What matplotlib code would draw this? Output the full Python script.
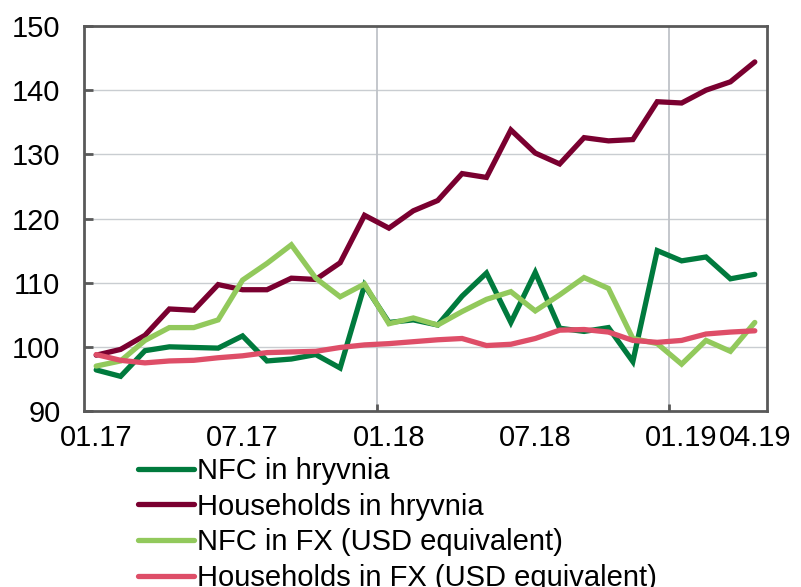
import matplotlib
matplotlib.use("Agg")
import matplotlib.pyplot as plt
from matplotlib.ticker import FixedLocator

plt.rcParams['font.family'] = ['Liberation Sans', 'DejaVu Sans']

months = ["01.17", "02.17", "03.17", "04.17", "05.17", "06.17", "07.17", "08.17", "09.17", "10.17",
          "11.17", "12.17", "01.18", "02.18", "03.18", "04.18", "05.18", "06.18", "07.18", "08.18",
          "09.18", "10.18", "11.18", "12.18", "01.19", "02.19", "03.19", "04.19"]

nfc_uah = [96.4, 95.4, 99.4, 100.0, 99.9, 99.8, 101.7, 97.8, 98.1, 98.8, 96.7, 109.6, 103.8, 104.2,
           103.4, 107.9, 111.5, 103.8, 111.6, 102.9, 102.4, 103.0, 97.7, 115.0, 113.4, 114.0, 110.6, 111.3]
hh_uah = [98.7, 99.6, 101.8, 105.9, 105.7, 109.7, 108.9, 108.9, 110.7, 110.5, 113.1, 120.5, 118.5, 121.2,
          122.8, 127.0, 126.4, 133.8, 130.2, 128.5, 132.6, 132.1, 132.3, 138.2, 138.0, 140.0, 141.3, 144.4]
nfc_fx = [97.0, 97.8, 101.0, 103.0, 103.0, 104.2, 110.4, 113.0, 115.9, 110.7, 107.8, 109.8, 103.6, 104.5,
          103.4, 105.5, 107.4, 108.6, 105.6, 108.1, 110.8, 109.1, 101.3, 100.5, 97.3, 101.0, 99.3, 103.8]
hh_fx = [98.8, 97.9, 97.5, 97.8, 97.9, 98.3, 98.6, 99.1, 99.2, 99.3, 99.9, 100.3, 100.5, 100.8,
         101.1, 101.3, 100.2, 100.4, 101.3, 102.6, 102.7, 102.3, 101.0, 100.7, 101.0, 102.0, 102.3, 102.5]

labels = ["NFC in hryvnia", "Households in hryvnia", "NFC in FX (USD equivalent)", "Households in FX (USD equivalent)"]
colors = ["#007A3D", "#7A0030", "#92C95C", "#DE4E68"]
label_months = ["01.17", "07.17", "01.18", "07.18", "01.19", "04.19"]
yticks = [90, 100, 110, 120, 130, 140, 150]

FS = 21

fig = plt.figure(figsize=(8.01, 5.87), dpi=100)
ax = fig.add_axes([84/801, 1-411/587, (767-84)/801, (411-26)/587])

x = list(range(len(months)))
for series, lab, col in zip([nfc_uah, hh_uah, nfc_fx, hh_fx], labels, colors):
    ax.plot(x, series, color=col, lw=3.8, label=lab, solid_capstyle='round', solid_joinstyle='miter', zorder=3)

ax.set_xlim(-0.5, len(months) - 0.5)
ax.set_ylim(90, 150)
ax.set_yticks(yticks)
ax.set_yticklabels([str(v) for v in yticks])
ax.set_xticks([months.index(m) for m in label_months])
ax.set_xticklabels(label_months)
grid_x = [months.index("01.18") - 0.5, months.index("01.19") - 0.5]
ax.xaxis.set_minor_locator(FixedLocator(grid_x))

ax.tick_params(axis='x', which='major', length=0, labelsize=FS, pad=9)
ax.tick_params(axis='x', which='minor', direction='in', length=5, width=2, color='#595959')
ax.tick_params(axis='y', direction='in', length=6.5, width=2, color='#595959', labelsize=FS, pad=17)

for v in yticks[1:-1]:
    ax.axhline(v, color='#C9CDD1', lw=1.0, zorder=1)
for gx in grid_x:
    ax.axvline(gx, color='#BFC3C8', lw=1.3, zorder=1)

for sp in ax.spines.values():
    sp.set_color('#595959')
    sp.set_linewidth(2)

leg = fig.legend(loc='upper left', bbox_to_anchor=(138/801, 1-457/587), frameon=False,
                 fontsize=FS, handlelength=1.93, handletextpad=0.1, labelspacing=0.26,
                 borderpad=0, borderaxespad=0)
for h in leg.get_lines():
    h.set_linewidth(3.8)

fig.savefig("out.png", dpi=100)
